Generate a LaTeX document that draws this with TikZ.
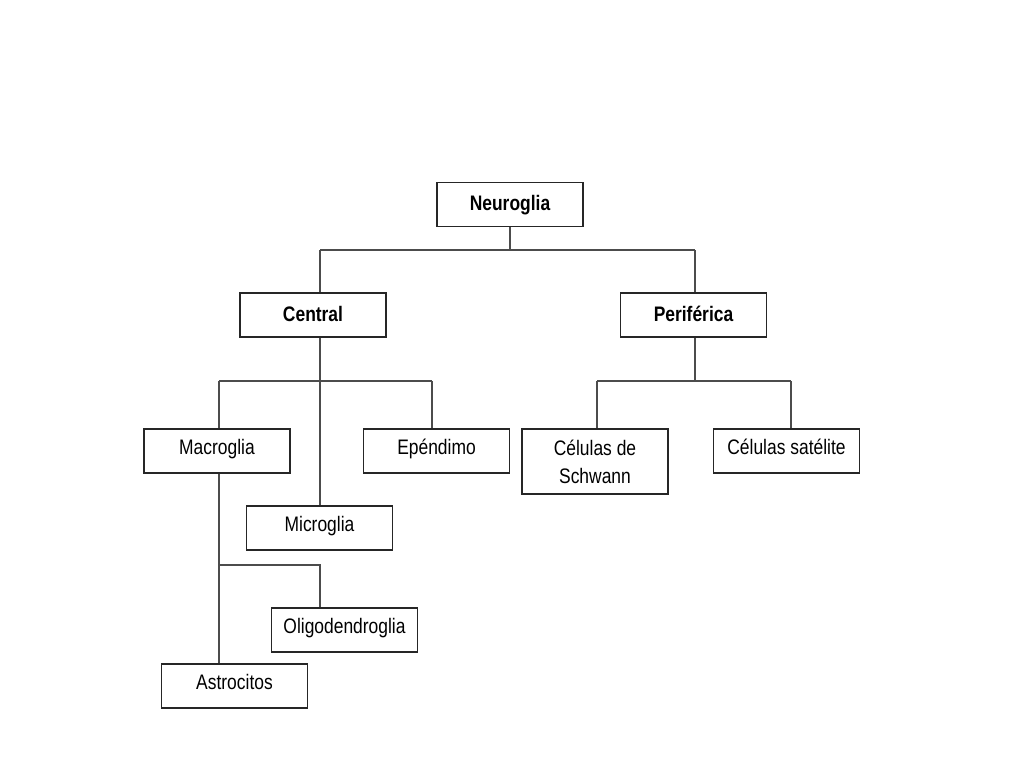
\documentclass[tikz,border=0pt]{standalone}
\usepackage{fontspec}
\setmainfont{Liberation Sans}
\newfontfamily\narrowfont[FakeStretch=0.83]{Liberation Sans}
\begin{document}
\begin{tikzpicture}[x=1pt,y=-1pt,
  box/.style={draw=black!85, line width=1.1pt, minimum width=146pt, minimum height=44pt, inner sep=0pt, align=center, text height=15pt, text depth=9pt, font=\narrowfont\fontsize{21}{28}\selectfont},
  boldbox/.style={box, text depth=3pt, font=\narrowfont\fontsize{21}{28}\selectfont\bfseries},
  conn/.style={draw=black!70, line width=1.3pt}]
\fill[white] (0,0) rectangle (1024,768);
\useasboundingbox (0,0) rectangle (1024,768);
\node[boldbox] (neuro) at (510,204.5) {Neuroglia};
\node[boldbox] (central) at (313,315) {Central};
\node[boldbox] (perif) at (693.5,315) {Periférica};
\node[box] (macro) at (217,451) {Macroglia};
\node[box] (epen) at (436.5,451) {Epéndimo};
\node[box] (micro) at (319.5,528) {Microglia};
\node[box, minimum height=65pt, text height={}, text depth={}] (schwann) at (595,461.5) {Células de\\Schwann};
\node[box] (sat) at (786.5,451) {Células satélite};
\node[box] (oligo) at (344.5,630) {Oligodendroglia};
\node[box] (astro) at (234.5,686) {Astrocitos};
% level 1
\coordinate (cL) at (320,250);
\coordinate (pR) at (695,250);
\draw[conn] (neuro.south) -- (neuro.south |- cL);
\draw[conn] (cL) -- (pR);
\draw[conn] (cL) -- (cL |- central.north);
\draw[conn] (pR) -- (pR |- perif.north);
% central
\coordinate (c2) at (320,381);
\coordinate (mL) at (219,381);
\coordinate (eR) at (432,381);
\draw[conn] (c2 |- central.south) -- (c2 |- micro.north);
\draw[conn] (mL) -- (eR);
\draw[conn] (mL) -- (mL |- macro.north);
\draw[conn] (eR) -- (eR |- epen.north);
% periferica
\coordinate (p2) at (695,381);
\coordinate (sL) at (597,381);
\coordinate (sR) at (791,381);
\draw[conn] (p2 |- perif.south) -- (p2);
\draw[conn] (sL) -- (sR);
\draw[conn] (sL) -- (sL |- schwann.north);
\draw[conn] (sR) -- (sR |- sat.north);
% macroglia
\coordinate (a1) at (219,565);
\coordinate (o1) at (320,565);
\draw[conn] (a1 |- macro.south) -- (a1 |- astro.north);
\draw[conn] (a1) -- (o1) -- (o1 |- oligo.north);
\end{tikzpicture}
\end{document}
